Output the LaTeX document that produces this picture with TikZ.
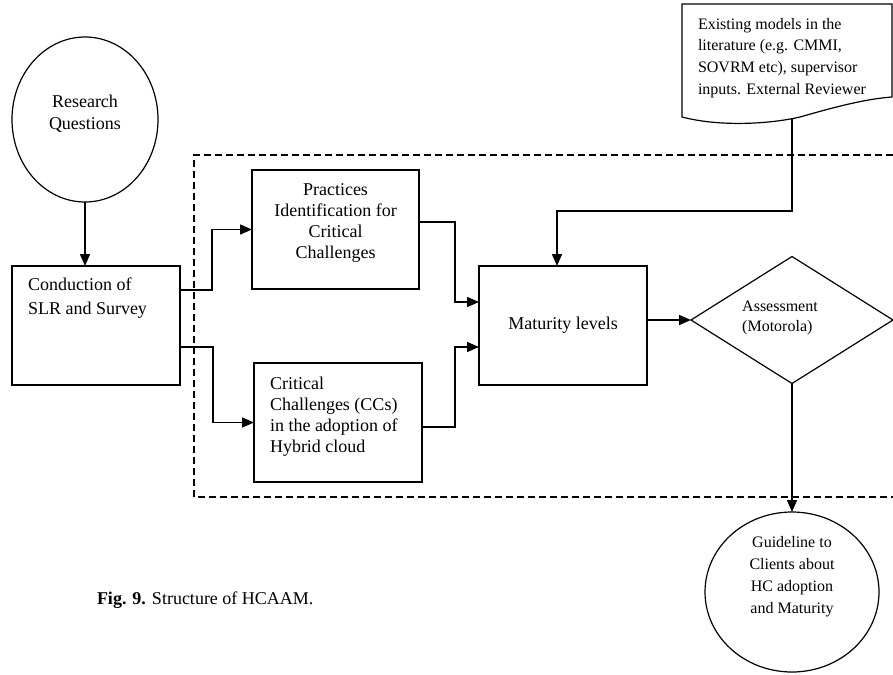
\documentclass[tikz,border=0pt]{standalone}
\usepackage{fontspec}
\setmainfont{Liberation Serif}
\usetikzlibrary{shapes.geometric,arrows.meta,calc}

\begin{document}
\begin{tikzpicture}[x=1pt,y=-1pt,
  every node/.style={inner sep=0pt, outer sep=0pt},
  box/.style={draw, rectangle, line width=1.3pt},
  oval/.style={draw, ellipse, line width=1.2pt},
  decide/.style={draw, diamond, line width=1.2pt},
  arr/.style={line width=1.5pt, -{Triangle[length=12pt,width=10pt]}},
  bigtxt/.style={font=\fontsize{18}{22}\selectfont},
  smalltxt/.style={font=\fontsize{16}{21.7}\selectfont},
  frame/.style={line width=1.2pt, dash pattern=on 7pt off 4pt}]
\useasboundingbox (0,0) rectangle (893,674);

% dashed frame (open to the right, running off the page)
\draw[frame] (893,155) -- (194,155) -- (194,497) -- (893,497);

% research questions
\node[oval, minimum width=146pt, minimum height=165pt,
  label={[bigtxt, align=center, yshift=6pt]center:Research\\Questions}] (rq) at (85,119.5) {};

% SLR box
\node[box, minimum width=168pt, minimum height=119pt,
  label={[align=left, anchor=north west, xshift=16pt, yshift=-12pt, font=\fontsize{18}{24}\selectfont]north west:Conduction of\\SLR and Survey}] (slr) at (96,325.5) {};

% practices box
\node[box, minimum width=167pt, minimum height=119pt,
  label={[align=center, yshift=6.5pt, font=\fontsize{18}{21.3}\selectfont]center:Practices\\Identification for\\Critical\\Challenges}] (prac) at (335.5,229.5) {};

% critical challenges box
\node[box, minimum width=168pt, minimum height=119pt,
  label={[align=left, anchor=north west, xshift=16pt, yshift=-14pt, font=\fontsize{18}{21}\selectfont]north west:Critical\\Challenges (CCs)\\in the adoption of\\Hybrid cloud}] (cc) at (338,422.5) {};

% maturity levels
\node[box, bigtxt, minimum width=168pt, minimum height=119pt] (mat) at (563,325.5) {Maturity levels};

% assessment diamond
\node[decide, minimum width=202pt, minimum height=127pt,
  label={[align=left, xshift=-12pt, yshift=2pt, font=\fontsize{16}{20}\selectfont]center:Assessment\\(Motorola)}] (dia) at (792,320) {};

% guideline circle
\node[oval, minimum width=174pt, minimum height=160pt,
  label={[align=center, yshift=15pt, font=\fontsize{16}{22}\selectfont]center:Guideline to\\Clients about\\HC adoption\\and Maturity}] (guide) at (792,592) {};

% document shape
\draw[line width=1.2pt] (682,4) -- (892,4) -- (892,97)
  .. controls (865,99) and (835,107) .. (800,117)
  .. controls (770,124) and (720,127) .. (682,117) -- cycle;
\node[smalltxt, align=left, anchor=north west] (doc) at (698,18)
  {Existing models in the\\literature (e.g. CMMI,\\SOVRM etc), supervisor\\inputs. External Reviewer};
\coordinate (docb) at (792,119);

% caption
\node[bigtxt, anchor=west] (cap) at (97,600) {\textbf{Fig. 9.} Structure of HCAAM.};

% connectors
\draw[arr] (rq.south) -- (slr.north -| rq.south);
\draw[arr] ($(slr.north east)+(0,24)$) -- ++(32,0) |- (prac.west);
\draw[arr] ($(slr.north east)+(0,81)$) -- ++(33,0) |- (cc.west);
\draw[arr] ($(prac.east)+(0,-7.5)$) -- ++(36,0) |- ($(mat.west)+(0,-23.5)$);
\draw[arr] ($(cc.east)+(0,4.5)$) -- ++(33,0) |- ($(mat.west)+(0,21.5)$);
\draw[arr] (mat.east |- dia.west) -- (dia.west);
\draw[arr] (dia.south) -- (guide.north);
\draw[arr] (docb) |- ($(mat.north)+(-6,-55)$) -- ($(mat.north)+(-6,0)$);
\end{tikzpicture}
\end{document}
